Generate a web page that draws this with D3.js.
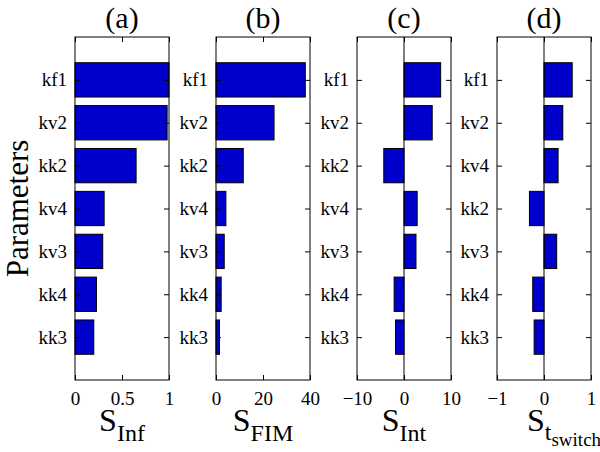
<!DOCTYPE html>
<html><head><meta charset="utf-8">
<script src="https://cdn.jsdelivr.net/npm/d3@7"></script>
<style>
body{margin:0;background:#fff;}
svg{display:block;font-family:"Liberation Serif","Times New Roman",serif;}
</style></head>
<body>
<svg id="chart" width="600" height="452"></svg>
<script>
// Data
const paramsABC = ["kf1","kv2","kk2","kv4","kv3","kk4","kk3"];
const paramsD   = ["kf1","kv2","kv4","kk2","kv3","kk4","kk3"];
const sInf     = [1.0, 0.98, 0.65, 0.31, 0.295, 0.228, 0.2];
const sFIM     = [38.0, 24.7, 11.6, 4.2, 3.5, 2.2, 1.5];
const sInt     = [7.8, 6.0, -4.3, 2.8, 2.55, -2.1, -1.8];
const sTswitch = [0.6, 0.40, 0.30, -0.31, 0.27, -0.24, -0.21];
const panelTitles = ["(a)","(b)","(c)","(d)"];
const xDomains = [[0,1],[0,40],[-10,10],[-1,1]];
const xTicks = [[0,0.5,1],[0,20,40],[-10,0,10],[-1,0,1]];
const xTickLabels = [["0","0.5","1"],["0","20","40"],["\u221210","0","10"],["\u22121","0","1"]];
const xLabelMain = ["S","S","S","S"];
const xLabelSub = ["Inf","FIM","Int","t"];
const xLabelSubSub = ["","","","switch"];

const panels = [
  {cats: paramsABC, vals: sInf},
  {cats: paramsABC, vals: sFIM},
  {cats: paramsABC, vals: sInt},
  {cats: paramsD, vals: sTswitch}
];

const svg = d3.select("#chart");
const lefts = [75, 216, 357, 497];
const W = 94, plotTop = 37, plotBottom = 380;
const barColor = "#0000cc";
const serif = "Liberation Serif";

const y = d3.scaleLinear().domain([0, 8]).range([plotTop, plotBottom]);

panels.forEach((p, k) => {
  const L = lefts[k];
  const x = d3.scaleLinear().domain(xDomains[k]).range([L, L + W]);
  const g = svg.append("g");
  const data = p.cats.map((c, i) => ({c, v: p.vals[i], pos: i + 1}));

  g.selectAll("rect.bar").data(data).enter().append("rect")
    .attr("class","bar")
    .attr("x", d => x(Math.min(0, d.v)))
    .attr("width", d => Math.abs(x(d.v) - x(0)))
    .attr("y", d => y(d.pos - 0.4))
    .attr("height", d => y(d.pos + 0.4) - y(d.pos - 0.4))
    .attr("fill", barColor)
    .attr("stroke", "#000")
    .attr("stroke-width", 1);

  if (xDomains[k][0] < 0) {
    g.append("line")
      .attr("x1", x(0)).attr("x2", x(0))
      .attr("y1", plotTop).attr("y2", plotBottom)
      .attr("stroke", "#000").attr("stroke-width", 1);
  }

  const xb = g.append("g").attr("transform", `translate(0,${plotBottom})`)
    .call(d3.axisBottom(x).tickValues(xTicks[k])
      .tickFormat((d, i) => xTickLabels[k][i])
      .tickSizeInner(-5).tickSizeOuter(0).tickPadding(12));
  xb.select(".domain").remove();
  xb.attr("font-family", serif);
  xb.selectAll("text").attr("font-size", 19).attr("font-family", serif).attr("fill", "#000");
  xb.selectAll("line").attr("stroke", "#000");

  const xt = g.append("g").attr("transform", `translate(0,${plotTop})`)
    .call(d3.axisTop(x).tickValues(xTicks[k]).tickSizeInner(-5).tickSizeOuter(0).tickFormat(""));
  xt.select(".domain").remove();
  xt.selectAll("line").attr("stroke", "#000");

  const yl = g.append("g").attr("transform", `translate(${L},0)`)
    .call(d3.axisLeft(y).tickValues(d3.range(1, 8))
      .tickFormat(d => p.cats[d - 1])
      .tickSizeInner(-5).tickSizeOuter(0).tickPadding(8));
  yl.select(".domain").remove();
  yl.attr("font-family", serif);
  yl.selectAll("text").attr("font-size", 19).attr("font-family", serif).attr("fill", "#000");
  yl.selectAll("line").attr("stroke", "#000");

  const yr = g.append("g").attr("transform", `translate(${L + W},0)`)
    .call(d3.axisRight(y).tickValues(d3.range(1, 8)).tickSizeInner(-5).tickSizeOuter(0).tickFormat(""));
  yr.select(".domain").remove();
  yr.selectAll("line").attr("stroke", "#000");

  g.append("rect").attr("x", L).attr("y", plotTop).attr("width", W).attr("height", plotBottom - plotTop)
    .attr("fill", "none").attr("stroke", "#000").attr("stroke-width", 1);

  g.append("text").attr("x", L + W / 2).attr("y", 28).attr("text-anchor", "middle")
    .attr("font-family", serif).attr("font-size", 30).text(panelTitles[k]);

  if (xLabelSubSub[k]) {
    const t = g.append("text").attr("x", L + 30).attr("y", 431).attr("text-anchor", "start")
      .attr("font-family", serif).attr("font-size", 32);
    t.append("tspan").text(xLabelMain[k]);
    t.append("tspan").attr("font-size", 24).attr("dy", 9).text(xLabelSub[k]);
    t.append("tspan").attr("font-size", 19).attr("dy", 6).text(xLabelSubSub[k]);
  } else {
    const t = g.append("text").attr("x", L + W / 2).attr("y", 431).attr("text-anchor", "middle")
      .attr("font-family", serif).attr("font-size", 32);
    t.append("tspan").text(xLabelMain[k]);
    t.append("tspan").attr("font-size", 24).attr("dy", 10).text(xLabelSub[k]);
  }
});

svg.append("text")
  .attr("transform", `translate(28,${(plotTop + plotBottom) / 2}) rotate(-90)`)
  .attr("text-anchor", "middle").attr("font-family", serif).attr("font-size", 31).text("Parameters");
</script>
</body></html>
